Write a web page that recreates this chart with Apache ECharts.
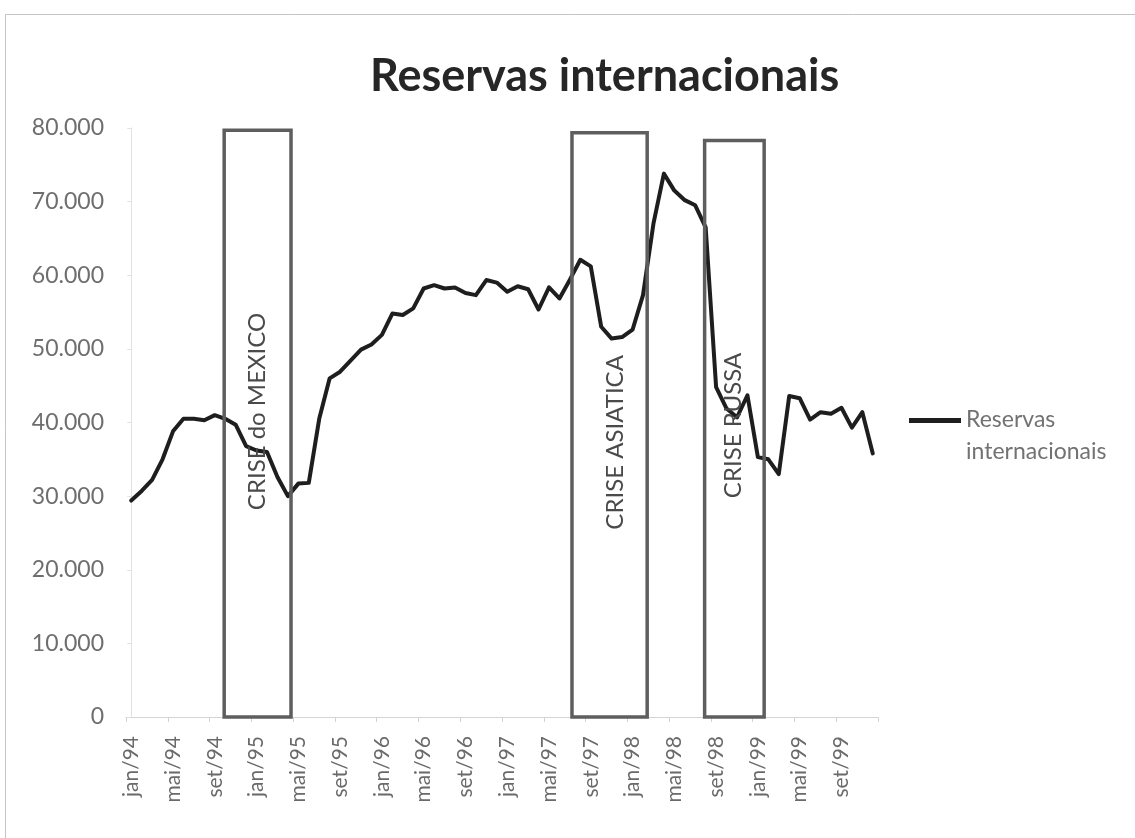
<!DOCTYPE html>
<html>
<head>
<meta charset="utf-8">
<script src="https://cdn.jsdelivr.net/npm/echarts@6/dist/echarts.min.js"></script>
<style>
  html, body { margin: 0; padding: 0; background: #ffffff; }
  #chart { width: 1135px; height: 838px; }
</style>
</head>
<body>
<div id="chart"></div>
<script>
// Month names and years for the monthly category axis (jan/94 .. dez/99)
const monthNames = ['jan', 'fev', 'mar', 'abr', 'mai', 'jun', 'jul', 'ago', 'set', 'out', 'nov', 'dez'];
const years = ['94', '95', '96', '97', '98', '99'];

// Monthly international reserves (US$ millions)
const reservas = [
  29400, 30700, 32200, 35000, 38800, 40500, 40500, 40300, 41000, 40500, 39700, 36800,
  36200, 36000, 32600, 30000, 31700, 31800, 40500, 46000, 46900, 48400, 49900, 50600,
  51900, 54800, 54600, 55500, 58200, 58650, 58200, 58350, 57600, 57300, 59350, 59000,
  57750, 58500, 58100, 55350, 58350, 56850, 59400, 62100, 61200, 53000, 51400, 51600,
  52600, 57300, 67000, 73800, 71500, 70200, 69500, 66500, 44800, 41900, 40700, 43700,
  35300, 35000, 33000, 43600, 43300, 40400, 41400, 41200, 42000, 39300, 41400, 35800
];

// Crisis periods: start/end in month positions, box height, label and label anchor
const crisisNames = ['CRISE do MEXICO', 'CRISE ASIATICA', 'CRISE RUSSA'];
const crisisStart = [8.9, 42.2, 54.9];
const crisisEnd = [15.3, 49.4, 60.6];
const crisisTop = [79700, 79350, 78300];
const crisisLabelX = [12.1, 46.3, 57.6];
const crisisLabelY = [41500, 37300, 39600];

const seriesName = 'Reservas internacionais';

const categories = [];
years.forEach(y => monthNames.forEach(m => categories.push(m + '/' + y)));

const crisisData = crisisNames.map((n, i) => [crisisStart[i], crisisEnd[i], crisisTop[i], crisisLabelX[i], crisisLabelY[i], n]);

const fontFamily = 'Lato, "Open Sans", sans-serif';
const chart = echarts.init(document.getElementById('chart'), null, { renderer: 'canvas' });

chart.setOption({
  backgroundColor: '#ffffff',
  animation: false,
  title: {
    text: 'Reservas internacionais',
    left: 365,
    top: 49,
    textStyle: { fontFamily: fontFamily, fontSize: 45, fontWeight: 'bold', color: '#262626' }
  },
  legend: {
    left: 904,
    top: 399,
    orient: 'vertical',
    itemWidth: 52,
    itemHeight: 36,
    // legend swatch: short thick line aligned with the first text row
    icon: 'path://M0,0H52V5H0Z M0,36H0.01Z',
    formatter: name => name.replace(' ', '\n'),
    textStyle: { fontFamily: fontFamily, fontSize: 23, color: '#727272', lineHeight: 32 },
    data: [seriesName]
  },
  graphic: [{
    type: 'rect',
    shape: { x: 5.5, y: 14.5, width: 1200, height: 900 },
    style: { fill: 'none', stroke: '#c4c4c4', lineWidth: 1 },
    silent: true
  }],
  grid: { left: 126, right: 1135 - 878, top: 128, bottom: 838 - 717, containLabel: false },
  xAxis: [{
    type: 'category',
    data: categories,
    boundaryGap: true,
    axisLine: { lineStyle: { color: '#d4d4d4', width: 1 } },
    axisTick: { show: true, interval: 3, length: 5, lineStyle: { color: '#d4d4d4' } },
    axisLabel: {
      interval: 3,
      rotate: 90,
      margin: 19,
      fontFamily: fontFamily,
      fontSize: 21,
      color: '#6a6a6a'
    },
    splitLine: { show: false }
  }, {
    type: 'value',
    min: -0.5,
    max: 71.5,
    show: false
  }],
  yAxis: {
    type: 'value',
    min: 0,
    max: 80000,
    interval: 10000,
    axisLine: { show: true, lineStyle: { color: '#e2e2e2' } },
    axisTick: { show: true, length: 4, lineStyle: { color: '#e2e2e2' } },
    splitLine: { show: false },
    axisLabel: {
      margin: 22,
      fontFamily: fontFamily,
      fontSize: 23,
      color: '#6e6e6e',
      formatter: v => v === 0 ? '0' : String(v).replace(/\B(?=(\d{3})+(?!\d))/g, '.')
    }
  },
  series: [{
    name: seriesName,
    type: 'line',
    data: reservas,
    showSymbol: false,
    symbol: 'none',
    smooth: false,
    z: 3,
    lineStyle: { color: '#1e1e1e', width: 4, join: 'round', cap: 'round' },
    itemStyle: { color: '#1e1e1e' }
  }, {
    name: 'crises',
    type: 'custom',
    xAxisIndex: 1,
    yAxisIndex: 0,
    data: crisisData,
    z: 4,
    renderItem: (params, api) => {
      const p0 = api.coord([api.value(0), 0]);
      const p1 = api.coord([api.value(1), api.value(2)]);
      const c = api.coord([api.value(3), api.value(4)]);
      return {
        type: 'group',
        children: [{
          type: 'rect',
          shape: { x: p0[0], y: p1[1], width: p1[0] - p0[0], height: p0[1] - p1[1] },
          style: { fill: 'none', stroke: '#5e5e5e', lineWidth: 3.5 }
        }, {
          type: 'text',
          x: c[0],
          y: c[1],
          rotation: Math.PI / 2,
          style: {
            text: crisisData[params.dataIndex][5],
            fill: '#4a4a4a',
            font: '24px ' + fontFamily,
            align: 'center',
            verticalAlign: 'middle'
          }
        }]
      };
    }
  }]
});
</script>
</body>
</html>
